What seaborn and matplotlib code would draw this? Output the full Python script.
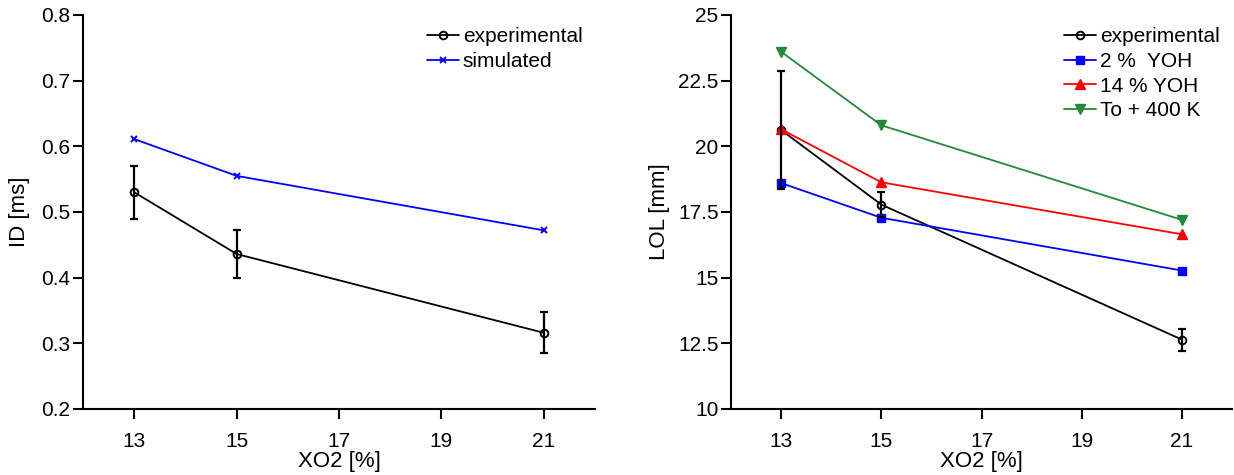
import matplotlib
matplotlib.use("Agg")
import matplotlib.pyplot as plt
import seaborn as sns
import pandas as pd

sns.set_theme(style="ticks")
plt.rcParams["font.family"] = ["Liberation Sans", "DejaVu Sans"]
plt.rcParams["font.size"] = 15
plt.rcParams["axes.labelcolor"] = "black"
plt.rcParams["text.color"] = "black"

# Oxygen fraction [%]
xo2 = [13, 15, 21]

# Ignition delay [ms]
id_exp = [0.530, 0.436, 0.316]
id_exp_err = [0.040, 0.036, 0.031]
id_sim = [0.611, 0.555, 0.472]

# Lift-off length [mm]
lol_exp = [20.62, 17.78, 12.64]
lol_exp_err = [2.25, 0.47, 0.42]
lol_2yoh = [18.60, 17.28, 15.27]
lol_14yoh = [20.65, 18.63, 16.65]
lol_to400 = [23.60, 20.80, 17.20]

id_ticks = [0.2, 0.3, 0.4, 0.5, 0.6, 0.7, 0.8]
lol_ticks = [10, 12.5, 15, 17.5, 20, 22.5, 25]
lol_ticklabels = ["10", "12.5", "15", "17.5", "20", "22.5", "25"]
x_ticks = [13, 15, 17, 19, 21]

fig = plt.figure(figsize=(12.34, 4.75), dpi=100)
ax1 = fig.add_axes([0.0673, 0.139, 0.4149, 0.8295])
ax2 = fig.add_axes([0.5924, 0.139, 0.4060, 0.8295])

lw = 1.3
tick_fs = 15
label_fs = 16
legend_fs = 15


def style_axes(ax):
    for s in ["top", "right"]:
        ax.spines[s].set_visible(False)
    for s in ["left", "bottom"]:
        ax.spines[s].set_color("black")
        ax.spines[s].set_linewidth(1.5)
    ax.tick_params(axis="both", direction="out", length=7, width=1.5,
                   color="black", labelsize=tick_fs, labelcolor="black")
    ax.tick_params(axis="y", pad=2)
    ax.tick_params(axis="x", pad=9.5)
    ax.set_xlim(12, 22)
    ax.set_xticks(x_ticks)
    ax.set_xticklabels([str(t) for t in x_ticks])
    ax.set_xlabel("XO2 [%]", fontsize=label_fs, labelpad=0)
    ax.grid(False)


def series(ax, y, label, color, marker, ms, open_marker=False, mew=1.0):
    df = pd.DataFrame({"XO2": xo2, "val": y})
    face = "none" if open_marker else color
    sns.lineplot(data=df, x="XO2", y="val", color=color, marker=marker,
                 markersize=ms, markeredgecolor=color, markerfacecolor=face,
                 markeredgewidth=mew, linewidth=lw, label=label, ax=ax)


def add_legend(ax):
    ax.legend(loc="upper right", bbox_to_anchor=(1.0, 1.0), frameon=False,
              fontsize=legend_fs, handlelength=1.5, handletextpad=0.2,
              labelspacing=0.27, borderaxespad=0.3, borderpad=0.3)


# Left panel: ignition delay
series(ax1, id_exp, "experimental", "black", "o", 5.5, open_marker=True, mew=1.4)
series(ax1, id_sim, "simulated", "#0000ff", "x", 4, mew=1.4)
ax1.errorbar(xo2, id_exp, yerr=id_exp_err, fmt="none", ecolor="black",
             elinewidth=1.6, capsize=3, capthick=1.6)
style_axes(ax1)
ax1.set_ylim(0.2, 0.8)
ax1.set_yticks(id_ticks)
ax1.set_yticklabels([f"{t:.1f}" for t in id_ticks])
ax1.set_ylabel("ID [ms]", fontsize=label_fs, labelpad=8)
add_legend(ax1)

# Right panel: lift-off length
series(ax2, lol_exp, "experimental", "black", "o", 5.5, open_marker=True, mew=1.4)
series(ax2, lol_2yoh, "2 %  YOH", "#0000ff", "s", 5.5)
series(ax2, lol_14yoh, "14 % YOH", "#ff0000", "^", 7)
series(ax2, lol_to400, "To + 400 K", "#228b3a", "v", 7)
ax2.errorbar(xo2, lol_exp, yerr=lol_exp_err, fmt="none", ecolor="black",
             elinewidth=1.6, capsize=3, capthick=1.6)
style_axes(ax2)
ax2.set_ylim(10, 25)
ax2.set_yticks(lol_ticks)
ax2.set_yticklabels(lol_ticklabels)
ax2.set_ylabel("LOL [mm]", fontsize=label_fs, labelpad=6)
add_legend(ax2)

fig.savefig("out.png", dpi=100)
